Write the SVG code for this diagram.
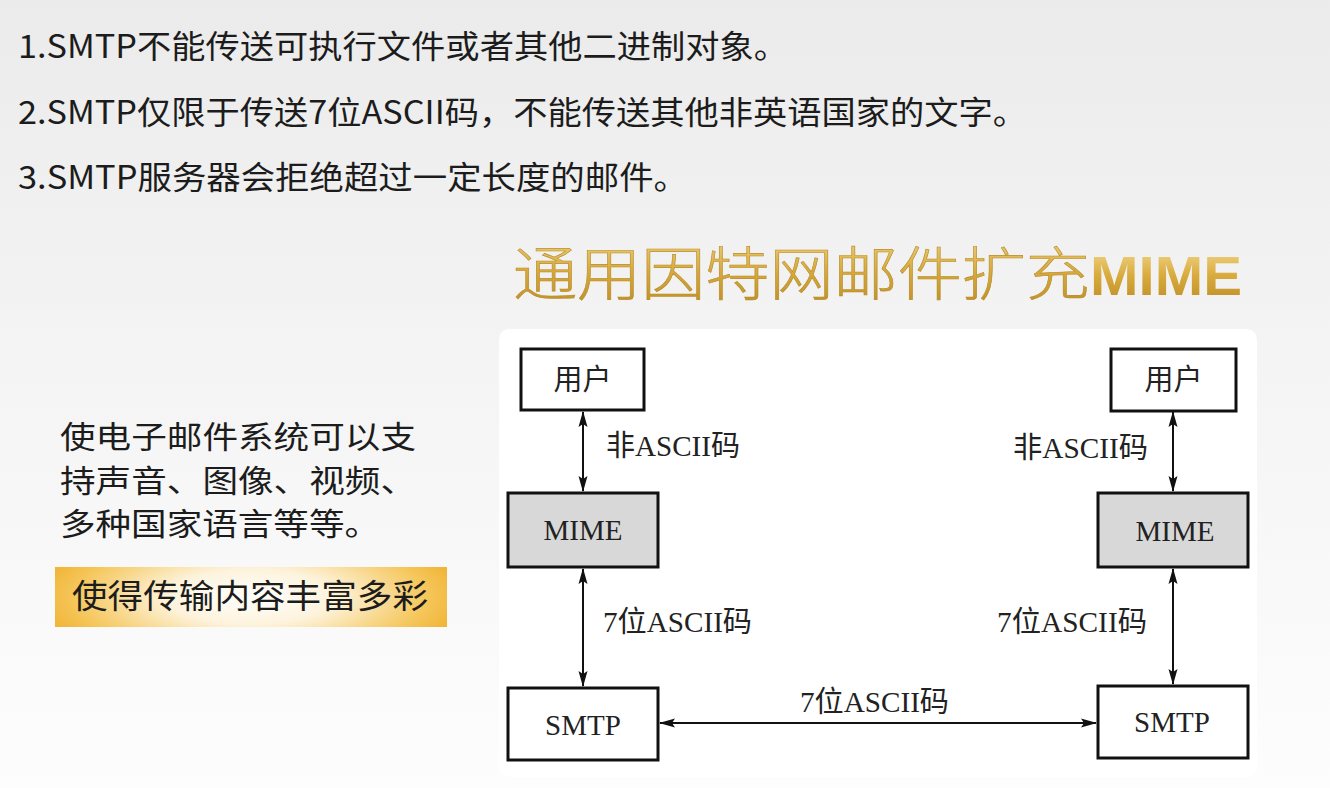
<svg xmlns="http://www.w3.org/2000/svg" width="1330" height="788" viewBox="0 0 1330 788">
  <defs>
    <linearGradient id="bg" x1="0" y1="0" x2="0" y2="1">
      <stop offset="0" stop-color="#ebebeb"/>
      <stop offset="0.45" stop-color="#f4f4f4"/>
      <stop offset="1" stop-color="#fdfdfd"/>
    </linearGradient>
    <linearGradient id="gold" x1="0" y1="0" x2="0" y2="1">
      <stop offset="0" stop-color="#f3dc92"/>
      <stop offset="0.5" stop-color="#d9ab3e"/>
      <stop offset="1" stop-color="#b98a22"/>
    </linearGradient>
    <radialGradient id="hl" cx="0.5" cy="0.5" r="0.6" fx="0.5" fy="0.5" gradientTransform="translate(0.5 0.5) scale(1 2.2) translate(-0.5 -0.5)">
      <stop offset="0" stop-color="#ffffff"/>
      <stop offset="0.35" stop-color="#fdf3dc"/>
      <stop offset="0.75" stop-color="#f5c65a"/>
      <stop offset="1" stop-color="#eeaa22"/>
    </radialGradient>
    <marker id="ah" viewBox="0 0 16 10" refX="15" refY="5" markerWidth="16" markerHeight="10" markerUnits="userSpaceOnUse" orient="auto-start-reverse">
      <path d="M0,0.5 L16,5 L0,9.5 L3,5 Z" fill="#111"/>
    </marker>
    <style>
      .cn { font-family: "Noto Sans CJK SC", "Noto Sans", sans-serif; fill: #1c1c1c; }
      .lbl { font-family: "Liberation Serif", "Noto Sans CJK SC", serif; font-size: 29px; fill: #222; }
      .box { fill: #ffffff; stroke: #111; stroke-width: 3; }
      .mime { fill: #d8d8d8; stroke: #111; stroke-width: 3; }
      .link { stroke: #111; stroke-width: 2; fill: none; marker-start: url(#ah); marker-end: url(#ah); }
    </style>
  </defs>

  <rect x="0" y="0" width="1330" height="788" fill="url(#bg)"/>

  <!-- list of SMTP limitations -->
  <g id="limits" class="cn" font-size="32">
    <text x="18" y="58" textLength="770" lengthAdjust="spacingAndGlyphs">1.SMTP不能传送可执行文件或者其他二进制对象。</text>
    <text x="18" y="124" textLength="1009" lengthAdjust="spacingAndGlyphs">2.SMTP仅限于传送7位ASCII码，不能传送其他非英语国家的文字。</text>
    <text x="18" y="189" textLength="670" lengthAdjust="spacingAndGlyphs">3.SMTP服务器会拒绝超过一定长度的邮件。</text>
  </g>

  <!-- heading -->
  <g id="title">
    <text x="513" y="295" font-family="Noto Sans CJK SC, sans-serif" font-weight="300" font-size="58" fill="url(#gold)" stroke="#b88d2a" stroke-width="0.6" textLength="577" lengthAdjust="spacingAndGlyphs">通用因特网邮件扩充</text>
    <text x="1090" y="295" font-family="Liberation Sans, Arial, sans-serif" font-weight="bold" font-size="56" fill="url(#gold)" textLength="152" lengthAdjust="spacingAndGlyphs">MIME</text>
  </g>

  <!-- description -->
  <g id="desc" class="cn" font-size="31">
    <text x="60" y="448" textLength="356" lengthAdjust="spacingAndGlyphs">使电子邮件系统可以支</text>
    <text x="60" y="492" textLength="356" lengthAdjust="spacingAndGlyphs">持声音、图像、视频、</text>
    <text x="60" y="535" textLength="320" lengthAdjust="spacingAndGlyphs">多种国家语言等等。</text>
  </g>

  <g id="highlight">
    <rect x="55" y="567" width="392" height="60" fill="url(#hl)"/>
    <text class="cn" x="72" y="608" font-size="33" textLength="356" lengthAdjust="spacingAndGlyphs">使得传输内容丰富多彩</text>
  </g>

  <!-- diagram panel -->
  <rect x="499" y="329" width="758" height="448" rx="10" fill="#ffffff"/>

  <!-- connectors -->
  <g id="connectors">
    <line class="link" x1="583" y1="412" x2="583" y2="491"/>
    <line class="link" x1="583" y1="569" x2="583" y2="686"/>
    <line class="link" x1="1173" y1="412" x2="1173" y2="491"/>
    <line class="link" x1="1173" y1="569" x2="1173" y2="684"/>
    <line class="link" x1="660" y1="723" x2="1096" y2="723"/>
    <text class="lbl" x="606" y="456" textLength="134" lengthAdjust="spacingAndGlyphs">非ASCII码</text>
    <text class="lbl" x="1013" y="458" textLength="135" lengthAdjust="spacingAndGlyphs">非ASCII码</text>
    <text class="lbl" x="603" y="632" textLength="149" lengthAdjust="spacingAndGlyphs">7位ASCII码</text>
    <text class="lbl" x="997" y="632" textLength="150" lengthAdjust="spacingAndGlyphs">7位ASCII码</text>
    <text class="lbl" x="800" y="712" textLength="149" lengthAdjust="spacingAndGlyphs">7位ASCII码</text>
  </g>

  <!-- nodes -->
  <g id="user-left">
    <rect class="box" x="521" y="349" width="123" height="61"/>
    <text class="lbl" x="582.5" y="390" text-anchor="middle">用户</text>
  </g>
  <g id="mime-left">
    <rect class="mime" x="508" y="493" width="150" height="74"/>
    <text class="lbl" x="583" y="540" text-anchor="middle">MIME</text>
  </g>
  <g id="smtp-left">
    <rect class="box" x="508" y="688" width="150" height="72"/>
    <text class="lbl" x="583" y="735" text-anchor="middle">SMTP</text>
  </g>
  <g id="user-right">
    <rect class="box" x="1111" y="349" width="125" height="62"/>
    <text class="lbl" x="1173.5" y="390" text-anchor="middle">用户</text>
  </g>
  <g id="mime-right">
    <rect class="mime" x="1098" y="493" width="150" height="74"/>
    <text class="lbl" x="1175" y="541" text-anchor="middle">MIME</text>
  </g>
  <g id="smtp-right">
    <rect class="box" x="1098" y="686" width="150" height="72"/>
    <text class="lbl" x="1172" y="732" text-anchor="middle">SMTP</text>
  </g>
</svg>
